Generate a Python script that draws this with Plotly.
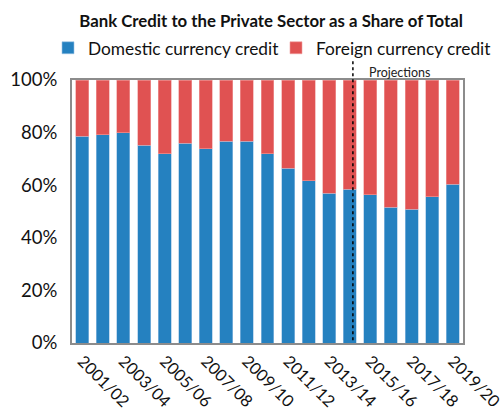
import plotly.graph_objects as go

# Fiscal years shown on the category axis
years = [f"{y}/{str(y + 1)[-2:]}" for y in range(2001, 2020)]

# Share of bank credit to the private sector (%), by currency
domestic = [78.6, 79.2, 80.0, 75.2, 71.9, 75.9, 73.9, 76.7, 76.7, 71.9,
            66.4, 61.7, 56.9, 58.4, 56.3, 51.7, 50.8, 55.6, 60.3]
foreign = [100 - d for d in domestic]

# Projections start after this year
projection_start = "2014/15"

blue = "#2581C0"
red = "#E05252"
font_family = "Lato, Carlito, Calibri, sans-serif"

fig = go.Figure()
fig.add_trace(go.Bar(x=years, y=[d / 100 for d in domestic],
                     name="Domestic currency credit", legend="legend",
                     marker=dict(color=blue, line=dict(color="#9cc3e4", width=0.6))))
fig.add_trace(go.Bar(x=years, y=[f / 100 for f in foreign],
                     name="Foreign currency credit", legend="legend2",
                     marker=dict(color=red, line=dict(color="#f0a0a0", width=0.6))))

px = years.index(projection_start) + 0.15
fig.add_shape(type="line", xref="x", yref="paper", x0=px, x1=px, y0=0.01, y1=1.076,
              line=dict(color="black", width=1.5, dash="dot"), layer="above")
fig.add_annotation(x=px, xref="x", y=1.03, yref="paper", text="Projections",
                   showarrow=False, xanchor="left", yanchor="middle", xshift=14,
                   font=dict(size=12.5, color="#222222", family=font_family))

legend_style = dict(orientation="h", xref="container", yref="container",
                    xanchor="left", y=0.884, yanchor="middle",
                    font=dict(size=17.3), itemwidth=30, bgcolor="rgba(0,0,0,0)")

fig.update_layout(
    width=503, height=414,
    margin=dict(l=72, r=40, t=80, b=71, autoexpand=False),
    paper_bgcolor="white", plot_bgcolor="white",
    barmode="stack", bargap=0.37,
    font=dict(family=font_family, color="#111111"),
    title=dict(text="<b>Bank Credit to the Private Sector as a Share of Total</b>",
               x=0.539, xanchor="center", y=0.948, yanchor="middle",
               font=dict(size=16.8, color="#111111")),
    showlegend=True,
    legend=dict(x=48 / 503, **legend_style),
    legend2=dict(x=276 / 503, **legend_style),
    xaxis=dict(type="category", tickmode="array", tickvals=years[::2], ticktext=years[::2],
               tickangle=45, tickfont=dict(size=16.5), showline=True, linecolor="#8c8c8c",
               linewidth=2, mirror=True, ticks="", showgrid=False),
    yaxis=dict(range=[0, 1], tickformat=".0%", dtick=0.2, tickfont=dict(size=18.5),
               showline=True, linecolor="#8c8c8c", linewidth=2, mirror=True,
               ticks="", showgrid=False, zeroline=False, ticklabelstandoff=9),
)

fig.write_html("out.html")
